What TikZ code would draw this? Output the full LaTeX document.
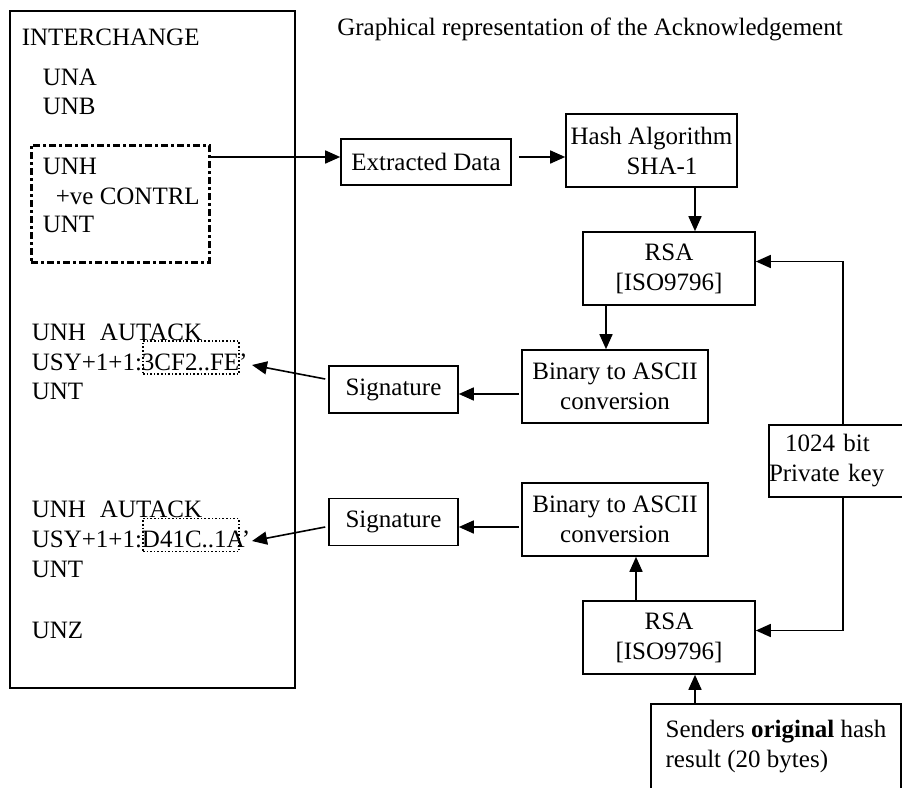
\documentclass[tikz,border=0pt]{standalone}
\usepackage{fontspec}
\setmainfont{Liberation Serif}
\usetikzlibrary{arrows.meta}

\begin{document}
\begin{tikzpicture}[x=1pt, y=-1pt, line width=1.6pt, >={Triangle[length=15pt, width=13pt]},
             every node/.style = {draw, shape=rectangle, inner sep=0pt, align=center,
                                  font=\fontsize{25}{30}\selectfont},
             txt/.style={draw=none, anchor=west}]
\useasboundingbox (0,0) rectangle (902,787);
\clip (0,0) rectangle (902,787);

\node (title) at (590,29) [draw=none] {Graphical representation of the Acknowledgement};

\node (inter) at (152.5,349.5) [minimum width=285, minimum height=677, line width=1.4pt] {};
\node (ic) at (21,37) [txt] {INTERCHANGE};
\node (una) at (42,77) [txt] {UNA};
\node (unb) at (42,106) [txt] {UNB};

\node (unh) at (120,203.5) [minimum width=178, minimum height=117, line width=3pt,
                            dash pattern=on 7pt off 3pt on 3pt off 3pt] {};
\node (unh1) at (42,166) [txt] {UNH};
\node (ctrl) at (55,196) [txt] {+ve CONTRL};
\node (unt1) at (42,224) [txt] {UNT};

\node (code1) at (191,357.5) [minimum width=96, minimum height=33, dotted, line width=1.6pt] {};
\node (aut1) at (31,332) [txt] {UNH\hspace*{14pt}AUTACK};
\node (usy1) at (31,362) [txt] {USY+1+1:3CF2..FE’};
\node (unt2) at (31,391) [txt] {UNT};

\node (code2) at (191,535) [minimum width=96, minimum height=33, dotted, line width=1.6pt] {};
\node (aut2) at (31,509) [txt] {UNH\hspace*{14pt}AUTACK};
\node (usy2) at (31,539) [txt] {USY+1+1:D41C..1A’};
\node (unt3) at (31,569) [txt] {UNT};
\node (unz) at (31,630) [txt] {UNZ};

\node (ed) at (426,162) [minimum width=170, minimum height=46] {Extracted Data};
\node (hash) at (651.5,150.5) [minimum width=171, minimum height=73] {Hash Algorithm\\\hspace*{21pt}SHA-1};
\node (rsa1) at (669,268.5) [minimum width=172, minimum height=73] {RSA\\{[ISO9796]}};
\node (bin1) at (615,386.5) [minimum width=186, minimum height=73] {Binary to ASCII\\conversion};
\node (sig1) at (393.5,389.5) [minimum width=129, minimum height=47] {Signature};

\node (key) at (843,461) [text width=148, minimum height=72, align=left] {\hspace*{16pt}1024 bit\\Private key};

\node (bin2) at (615,519.5) [minimum width=186, minimum height=73] {Binary to ASCII\\conversion};
\node (sig2) at (393.5,522) [minimum width=129, minimum height=47] {Signature};
\node (rsa2) at (669,637.5) [minimum width=172, minimum height=73] {RSA\\{[ISO9796]}};
\node (send) at (776,747) [minimum width=250, minimum height=86, align=left] {Senders \textbf{original} hash\\result (20 bytes)};

\coordinate (edin) at ([yshift=5pt]ed.west);
\draw [->] (unh.east |- edin) -- (edin);
\coordinate (edout) at ([xshift=7pt, yshift=5pt]ed.east);
\draw [->] (edout) -- (hash.west |- edout);

\coordinate (rsa1in) at ([xshift=26pt]rsa1.north);
\draw [->] (hash.south -| rsa1in) -- (rsa1in);
\draw [->] (key.north) |- ([yshift=7pt]rsa1.east);
\coordinate (bin1in) at ([xshift=-9pt]bin1.north);
\draw [->] (rsa1.south -| bin1in) -- (bin1in);
\coordinate (bin1out) at ([xshift=-2pt, yshift=-7.5pt]bin1.west);
\draw [->] (bin1out) -- (sig1.east |- bin1out);
\coordinate (tip1) at (252,365);
\draw [->] ([xshift=-3pt, yshift=10.5pt]sig1.west) -- (tip1);

\draw [->] (key.south) |- ([yshift=7pt]rsa2.east);
\coordinate (rsa2in) at ([xshift=26pt]rsa2.south);
\draw [->] (send.north -| rsa2in) -- (rsa2in);
\coordinate (bin2in) at ([xshift=21pt]bin2.south);
\draw [->] (rsa2.north -| bin2in) -- (bin2in);
\coordinate (bin2out) at ([xshift=-2pt, yshift=-7.5pt]bin2.west);
\draw [->] (bin2out) -- (sig2.east |- bin2out);
\coordinate (tip2) at (252,541);
\draw [->] ([xshift=-3pt, yshift=-5pt]sig2.west) -- (tip2);

\end{tikzpicture}
\end{document}
